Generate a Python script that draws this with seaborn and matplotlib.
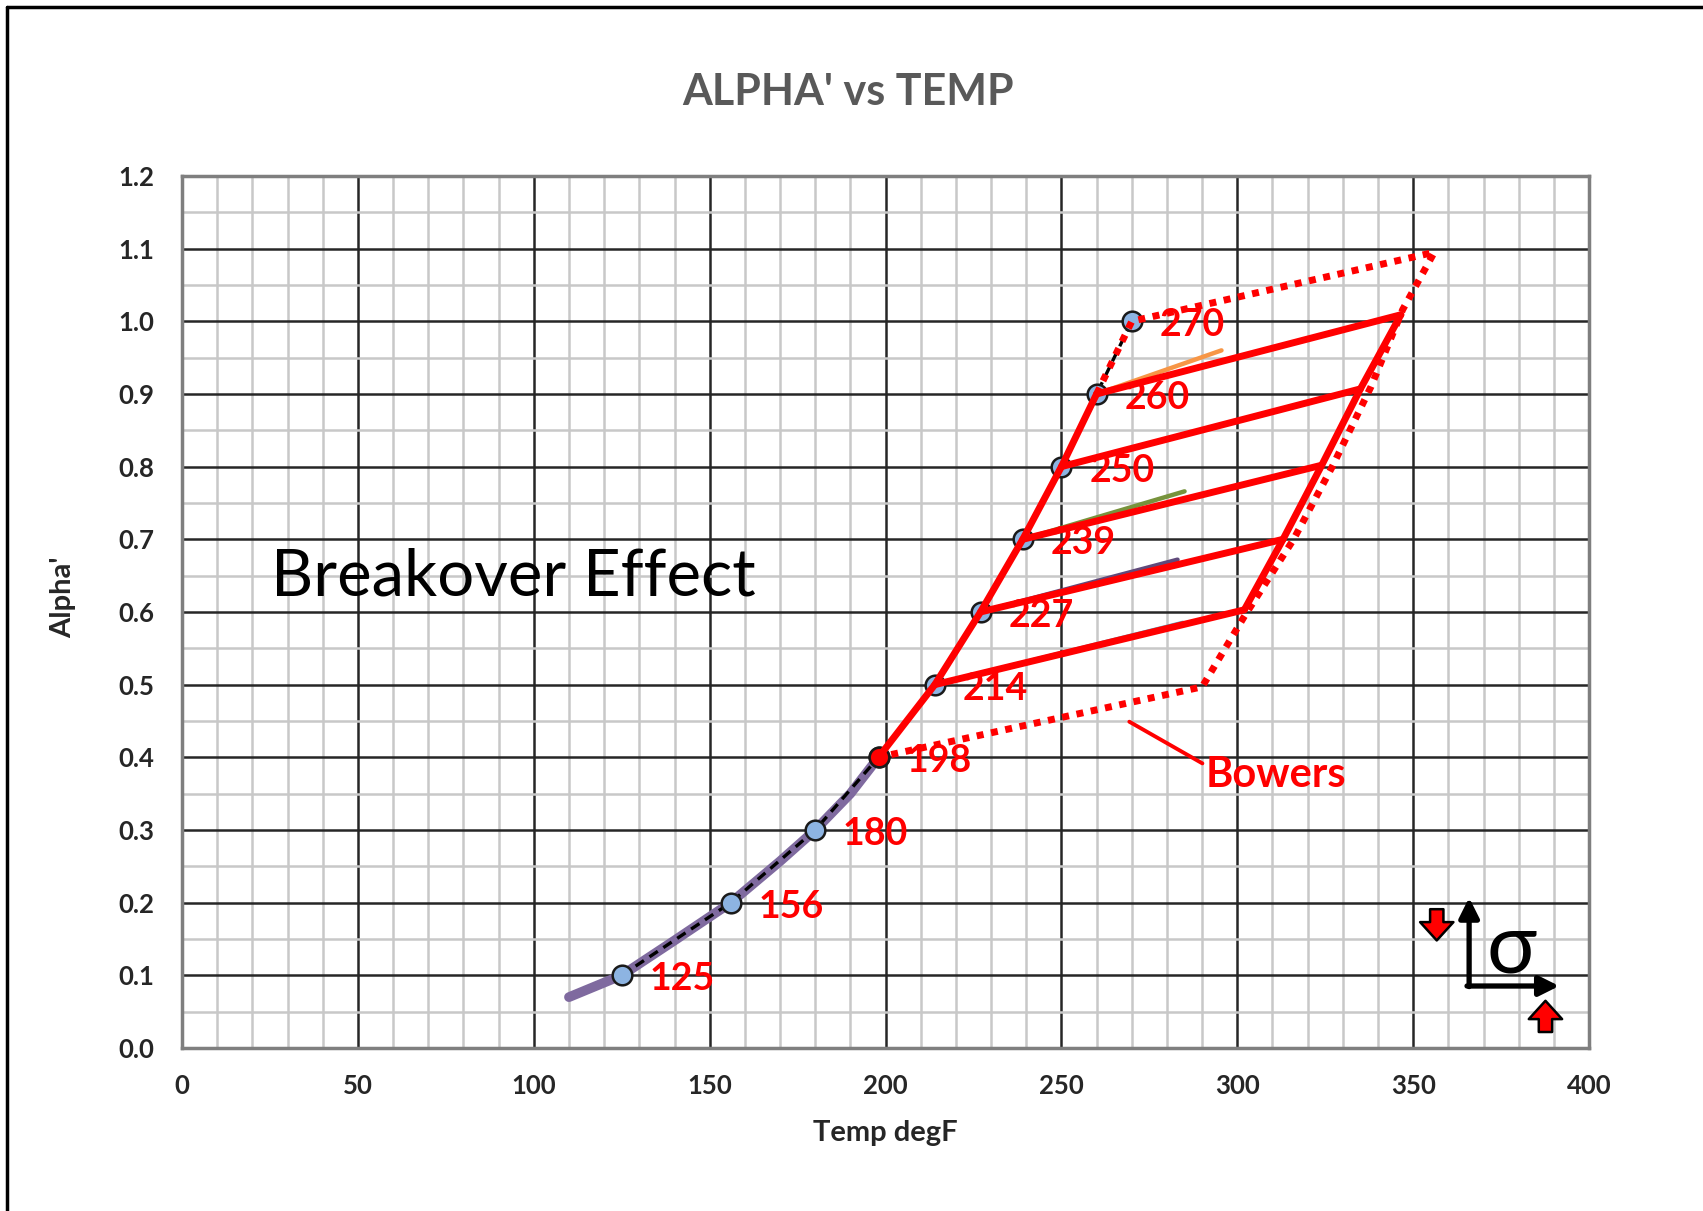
import numpy as np
import pandas as pd
import matplotlib
matplotlib.use("Agg")
import matplotlib.pyplot as plt
from matplotlib.lines import Line2D
from matplotlib.ticker import MultipleLocator, FormatStrFormatter
import seaborn as sns

# measured points on the alpha' curve
temps = [125, 156, 180, 198, 214, 227, 239, 250, 260, 270]
alphas = [0.1, 0.2, 0.3, 0.4, 0.5, 0.6, 0.7, 0.8, 0.9, 1.0]

# smooth purple trend at the low end
trend_t = [110, 125, 140, 156, 170, 180, 190, 198]
trend_a = [0.07, 0.10, 0.148, 0.20, 0.257, 0.30, 0.35, 0.40]

# red breakover branches: start on curve, end on the right edge
branch_t0 = [214, 227, 239, 250, 260]
branch_a0 = [0.5, 0.6, 0.7, 0.8, 0.9]
branch_t1 = [302, 313, 324, 335, 346.5]
branch_a1 = [0.603, 0.70, 0.802, 0.907, 1.009]

# Bowers envelope (dotted)
bowers_t = [260, 270, 356, 347, 338, 327, 316, 302, 290, 198]
bowers_a = [0.9, 1.0, 1.095, 1.016, 0.91, 0.80, 0.70, 0.594, 0.497, 0.40]

# thin coloured helper lines under the red branches
helper_t0 = [260, 239, 227, 214]
helper_a0 = [0.9, 0.7, 0.6, 0.5]
helper_t1 = [295.5, 285, 283, 284.5]
helper_a1 = [0.960, 0.766, 0.672, 0.585]
helper_colors = ["#F79646", "#77933C", "#604A7B", "#4BACC6"]

RED = "#FF0000"

sns.set_theme(style="white")
plt.rcParams["font.family"] = ["Lato", "DejaVu Sans"]

fig = plt.figure(figsize=(17.03, 12.11), dpi=100)
ax = fig.add_axes([0.1069, 0.1346, 0.8262, 0.7201])

# grid
ax.set_xlim(0, 400)
ax.set_ylim(0, 1.2)
ax.xaxis.set_major_locator(MultipleLocator(50))
ax.xaxis.set_minor_locator(MultipleLocator(10))
ax.yaxis.set_major_locator(MultipleLocator(0.1))
ax.yaxis.set_minor_locator(MultipleLocator(0.05))
ax.yaxis.set_major_formatter(FormatStrFormatter("%.1f"))
ax.grid(which="minor", color="#C8C8C8", lw=1.8, zorder=0)
ax.grid(which="major", color="#262626", lw=1.8, zorder=0.5)
ax.set_axisbelow(True)
for s in ax.spines.values():
    s.set_color("#7F7F7F")
    s.set_linewidth(2.5)

# purple trend
sns.lineplot(x=trend_t, y=trend_a, ax=ax, sort=False, color="#7F6A9F",
             lw=7, solid_capstyle="round", zorder=2)

# thin helper lines
for t0, a0, t1, a1, c in zip(helper_t0, helper_a0, helper_t1, helper_a1, helper_colors):
    ax.plot([t0, t1], [a0, a1], color=c, lw=3.2, zorder=2.5)

# black dashed through the points
sns.lineplot(x=temps, y=alphas, ax=ax, sort=False, color="black", lw=2.4,
             linestyle=(0, (3, 2)), zorder=3)

# markers
pts = pd.DataFrame({"temp": temps, "alpha": alphas})
sns.scatterplot(data=pts, x="temp", y="alpha", ax=ax, s=200, color="#8DB4E2",
                edgecolor="#1A1A1A", linewidth=1.8, zorder=4)
ax.scatter([temps[3]], [alphas[3]], s=200, color=RED, edgecolor="#1A1A1A",
           linewidth=1.8, zorder=4.5)

# red solid: curve section, branches, right edge
RED_LW = 5.0
sns.lineplot(x=temps[3:9], y=alphas[3:9], ax=ax, sort=False, color=RED, lw=RED_LW, zorder=5)
branches = pd.DataFrame({
    "temp": [v for pair in zip(branch_t0, branch_t1) for v in pair],
    "alpha": [v for pair in zip(branch_a0, branch_a1) for v in pair],
    "branch": np.repeat(range(len(branch_t0)), 2),
})
sns.lineplot(data=branches, x="temp", y="alpha", units="branch", estimator=None,
             sort=False, ax=ax, color=RED, lw=RED_LW, zorder=5)
sns.lineplot(x=branch_t1, y=branch_a1, ax=ax, sort=False, color=RED, lw=RED_LW, zorder=5)

# Bowers dotted envelope
sns.lineplot(x=bowers_t, y=bowers_a, ax=ax, sort=False, color=RED, lw=5,
             linestyle=(0, (1, 1.1)), zorder=5)

# point labels
for t, a in zip(temps, alphas):
    ax.annotate(str(t), (t, a), xytext=(20, -3), textcoords="offset points",
                color=RED, fontsize=27, fontweight="bold", va="center", ha="left",
                zorder=6)

ax.annotate("Bowers", xy=(269.3, 0.449), xytext=(291.0, 0.376),
            color=RED, fontsize=30, fontweight="bold", va="center", ha="left",
            arrowprops=dict(arrowstyle="-", color=RED, lw=2.8, shrinkA=0, shrinkB=0,
                            relpos=(0, 0.75)), zorder=6)
ax.text(25.3, 0.648, "Breakover Effect", fontsize=47, color="black",
        va="center", ha="left", zorder=6)

# stress direction icon
ax.annotate("", xy=(365.9, 0.207), xytext=(365.9, 0.0845),
            arrowprops=dict(arrowstyle="-|>,head_width=0.5,head_length=1.0",
                            color="black", lw=3.8, shrinkA=0, shrinkB=0), zorder=7)
ax.annotate("", xy=(391.5, 0.0853), xytext=(365.3, 0.0853),
            arrowprops=dict(arrowstyle="-|>,head_width=0.5,head_length=1.0",
                            color="black", lw=3.8, shrinkA=0, shrinkB=0), zorder=7)
ax.text(378.0, 0.135, "σ", fontsize=60, color="black", va="center", ha="center", zorder=7)
ax.annotate("", xy=(356.7, 0.148), xytext=(356.7, 0.191),
            arrowprops=dict(arrowstyle="simple,head_width=2.0,head_length=1.1,tail_width=0.8",
                            fc=RED, ec="black", lw=1.8, shrinkA=0, shrinkB=0), zorder=7)
ax.annotate("", xy=(387.6, 0.065), xytext=(387.6, 0.022),
            arrowprops=dict(arrowstyle="simple,head_width=2.0,head_length=1.1,tail_width=0.8",
                            fc=RED, ec="black", lw=1.8, shrinkA=0, shrinkB=0), zorder=7)

# ticks and labels
ax.tick_params(axis="both", which="both", length=0, labelsize=18.5)
ax.tick_params(axis="y", pad=20)
ax.tick_params(axis="x", pad=19)
for lab in ax.get_xticklabels() + ax.get_yticklabels():
    lab.set_fontweight("bold")
ax.set_xlabel("Temp degF", fontsize=21, fontweight="bold", va="center")
ax.set_ylabel("Alpha'", fontsize=21, fontweight="bold", va="center")
ax.xaxis.set_label_coords(0.5, -0.0975)
ax.yaxis.set_label_coords(-0.0846, 0.517)

fig.text(0.498, 0.924, "ALPHA' vs TEMP", fontsize=31, fontweight="bold",
         color="#595959", ha="center", va="center")

# screenshot frame (top and left only)
fig.add_artist(Line2D([0.0041, 0.0041], [0, 0.9942], transform=fig.transFigure,
                      color="black", lw=2.5))
fig.add_artist(Line2D([0.0041, 1], [0.9942, 0.9942], transform=fig.transFigure,
                      color="black", lw=2.5))

fig.savefig("out.png", dpi=100)
